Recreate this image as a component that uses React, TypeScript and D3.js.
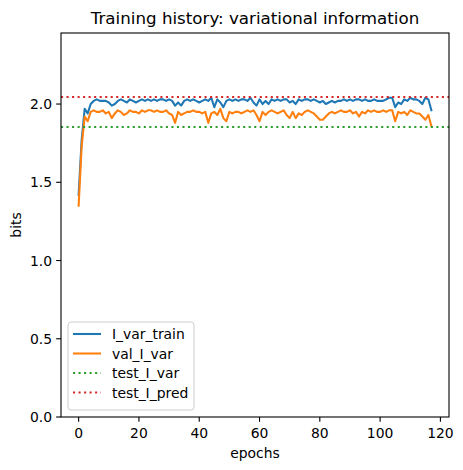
import React from "react";
import * as d3 from "d3";

const trainIVar: number[] = [
  1.42, 1.77, 1.97, 1.94, 2.0, 2.02, 2.03, 2.02, 2.02, 2.02,
  2.01, 1.99, 2.0, 2.02, 2.03, 2.02, 2.01, 2.03, 2.02, 2.01,
  2.02, 2.03, 2.02, 2.03, 2.02, 2.03, 2.02, 2.03, 2.03, 2.02,
  2.03, 2.02, 1.99, 2.01, 1.99, 2.02, 2.03, 2.02, 2.03, 2.02,
  2.01, 2.02, 2.03, 2.02, 2.04, 1.98, 2.03, 2.01, 1.98, 2.02,
  2.03, 2.02, 2.03, 2.02, 2.03, 2.03, 2.02, 2.04, 2.01, 1.99,
  2.03, 2.0, 2.02, 2.0, 2.03, 2.02, 2.03, 2.02, 2.03, 2.03,
  2.01, 2.02, 2.0, 2.03, 2.02, 2.03, 2.03, 2.02, 2.03, 2.02,
  2.01, 2.02, 2.0, 2.01, 2.02, 2.01, 2.02, 2.02, 2.03, 2.02,
  2.03, 2.02, 2.03, 2.03, 2.02, 2.03, 2.02, 2.02, 2.03, 2.02,
  2.02, 2.02, 2.03, 2.04, 2.04, 1.98, 2.01, 2.0, 2.03, 2.02,
  2.04, 2.03, 2.03, 2.02, 2.0, 2.04, 2.03, 1.96,
];

const valIVar: number[] = [
  1.35, 1.73, 1.92, 1.89, 1.95, 1.96, 1.95, 1.95, 1.96, 1.94,
  1.95, 1.91, 1.94, 1.96, 1.95, 1.93, 1.94, 1.96, 1.95, 1.95,
  1.94, 1.96, 1.95, 1.96, 1.96, 1.95, 1.96, 1.95, 1.95, 1.96,
  1.94, 1.93, 1.88, 1.95, 1.93, 1.94, 1.95, 1.95, 1.96, 1.95,
  1.95, 1.94, 1.95, 1.88, 1.94, 1.95, 1.93, 1.97, 1.91, 1.89,
  1.95, 1.94, 1.95, 1.95, 1.94, 1.95, 1.96, 1.95, 1.96, 1.93,
  1.89, 1.95, 1.93, 1.95, 1.96, 1.95, 1.94, 1.95, 1.96, 1.93,
  1.91, 1.95, 1.91, 1.94, 1.93, 1.95, 1.96, 1.95, 1.94, 1.92,
  1.9, 1.9, 1.92, 1.94, 1.95, 1.94, 1.95, 1.96, 1.95, 1.95,
  1.96, 1.94, 1.95, 1.92, 1.95, 1.94, 1.96, 1.95, 1.96, 1.95,
  1.95, 1.96, 1.95, 1.96, 1.96, 1.89, 1.95, 1.94, 1.95, 1.93,
  1.96, 1.95, 1.94, 1.94, 1.92, 1.9, 1.93, 1.86,
];

const testIVar = 1.853;
const testIPred = 2.045;

const xTicks: number[] = [0, 20, 40, 60, 80, 100, 120];
const yTicks: number[] = [0, 0.5, 1.0, 1.5, 2.0];

const legendLabels: string[] = ["I_var_train", "val_I_var", "test_I_var", "test_I_pred"];
const colors: string[] = ["#1f77b4", "#ff7f0e", "#2ca02c", "#d62728"];

const W = 463;
const H = 470;
const L = 61;
const R = 449;
const T = 33;
const B = 417;
const FONT = "DejaVu Sans, sans-serif";

export default function App() {
  const n = trainIVar.length;
  const xPad = (n - 1) * 0.05;
  const x = d3.scaleLinear().domain([-xPad, n - 1 + xPad]).range([L, R]);
  const y = d3.scaleLinear().domain([0, testIPred * 1.2]).range([B, T]);
  const line = d3
    .line<number>()
    .x((_, i) => x(i))
    .y((d) => y(d));
  const dash = "2.08,3.44";
  const lw = 2.08;

  const legX = 68;
  const legY = 322;
  const legW = 126;
  const legH = 88;
  const rowY = [334, 353.5, 373, 392.5];

  return (
    <svg
      width={W}
      height={H}
      style={{ position: "absolute", left: 0, top: 0, background: "#fff" }}
      fontFamily={FONT}
    >
      <rect x={0} y={0} width={W} height={H} fill="#fff" />
      <defs>
        <clipPath id="clip">
          <rect x={L} y={T} width={R - L} height={B - T} />
        </clipPath>
      </defs>
      <g clipPath="url(#clip)">
        <path d={line(trainIVar) || ""} fill="none" stroke={colors[0]} strokeWidth={lw} strokeLinejoin="round" strokeLinecap="square" />
        <path d={line(valIVar) || ""} fill="none" stroke={colors[1]} strokeWidth={lw} strokeLinejoin="round" strokeLinecap="square" />
        <line x1={L} x2={R} y1={y(testIVar)} y2={y(testIVar)} stroke={colors[2]} strokeWidth={lw} strokeDasharray={dash} />
        <line x1={L} x2={R} y1={y(testIPred)} y2={y(testIPred)} stroke={colors[3]} strokeWidth={lw} strokeDasharray={dash} />
      </g>
      <rect x={L} y={T} width={R - L} height={B - T} fill="none" stroke="#000" strokeWidth={1.1} />
      {xTicks.map((t) => (
        <g key={"x" + t}>
          <line x1={x(t)} x2={x(t)} y1={B} y2={B + 4.86} stroke="#000" strokeWidth={1.1} />
          <text x={x(t)} y={B + 21} textAnchor="middle" fontSize={13.9} fill="#000">
            {t}
          </text>
        </g>
      ))}
      {yTicks.map((t) => (
        <g key={"y" + t}>
          <line x1={L - 4.86} x2={L} y1={y(t)} y2={y(t)} stroke="#000" strokeWidth={1.1} />
          <text x={L - 9} y={y(t) + 5} textAnchor="end" fontSize={13.9} fill="#000">
            {t.toFixed(1)}
          </text>
        </g>
      ))}
      <text x={(L + R) / 2} y={24} textAnchor="middle" fontSize={16.7} fill="#000">
        Training history: variational information
      </text>
      <text x={(L + R) / 2} y={458} textAnchor="middle" fontSize={13.9} fill="#000">
        epochs
      </text>
      <text
        transform={`translate(21, ${(T + B) / 2}) rotate(-90)`}
        textAnchor="middle"
        fontSize={13.9}
        fill="#000"
      >
        bits
      </text>
      <rect x={legX} y={legY} width={legW} height={legH} rx={3} fill="#fff" fillOpacity={0.8} stroke="#cccccc" strokeWidth={1} />
      {legendLabels.map((lab, i) => (
        <g key={lab}>
          <line
            x1={73}
            x2={101}
            y1={rowY[i]}
            y2={rowY[i]}
            stroke={colors[i]}
            strokeWidth={lw}
            strokeDasharray={i >= 2 ? dash : undefined}
          />
          <text x={112} y={rowY[i] + 5} fontSize={13.9} fill="#000">
            {lab}
          </text>
        </g>
      ))}
    </svg>
  );
}
